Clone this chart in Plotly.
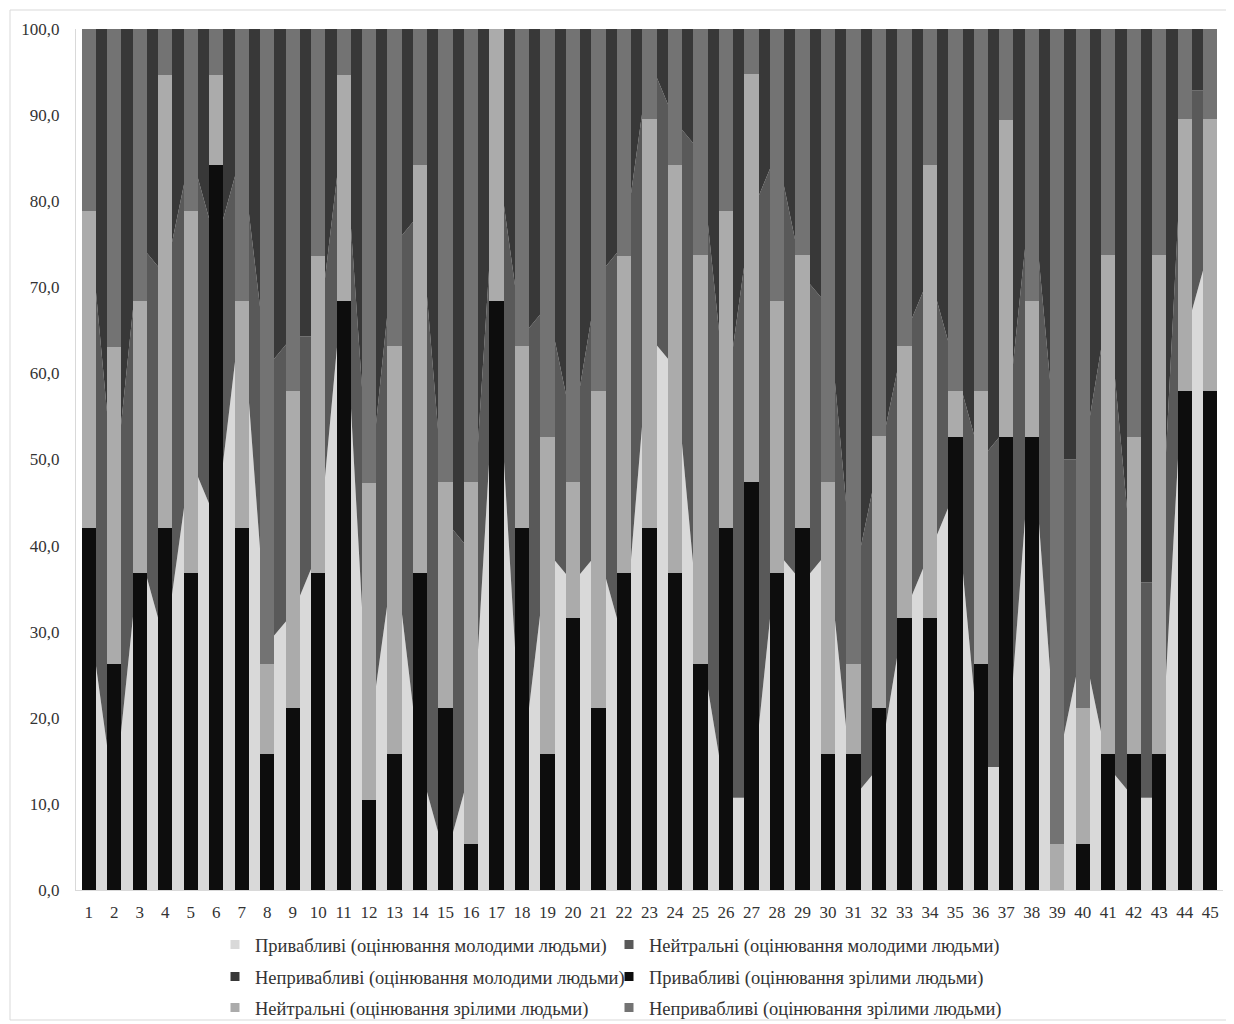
import plotly.graph_objects as go

categories = list(range(1, 46))

# Young people (area series, %)
young_attr = [32.1, 10.7, 39.3, 28.6, 50.0, 42.9, 67.9, 28.6, 32.1, 39.3,
              71.4, 17.9, 39.3, 14.3, 3.6, 14.3, 64.3, 14.3, 39.3, 35.7,
              39.3, 28.6, 64.3, 60.7, 28.6, 10.7, 10.7, 39.3, 35.7, 39.3,
              10.7, 14.3, 32.1, 39.3, 46.4, 14.3, 14.3, 53.6, 14.3, 28.6,
              14.3, 10.7, 10.7, 64.3, 75.0]
young_neut = [46.5, 35.7, 35.7, 42.8, 35.7, 32.1, 17.8, 32.1, 32.2, 25.0,
              17.9, 28.5, 35.7, 64.3, 39.3, 25.0, 21.4, 50.0, 28.6, 17.9,
              32.1, 46.4, 32.1, 28.6, 57.1, 46.4, 67.9, 46.4, 35.7, 28.6,
              25.0, 35.7, 32.2, 32.1, 14.3, 35.7, 39.3, 28.5, 35.7, 21.4,
              53.6, 25.0, 25.0, 28.6, 17.9]
young_unattr = [21.4, 53.6, 25.0, 28.6, 14.3, 25.0, 14.3, 39.3, 35.7, 35.7,
                10.7, 53.6, 25.0, 21.4, 57.1, 60.7, 14.3, 35.7, 32.1, 46.4,
                28.6, 25.0, 3.6, 10.7, 14.3, 42.9, 21.4, 14.3, 28.6, 32.1,
                64.3, 50.0, 35.7, 28.6, 39.3, 50.0, 46.4, 17.9, 50.0, 50.0,
                32.1, 64.3, 64.3, 7.1, 7.1]

# Mature people (bar series, %)
mature_attr = [42.1, 26.3, 36.8, 42.1, 36.8, 84.2, 42.1, 15.8, 21.1, 36.8,
               68.4, 10.5, 15.8, 36.8, 21.1, 5.3, 68.4, 42.1, 15.8, 31.6,
               21.1, 36.8, 42.1, 36.8, 26.3, 42.1, 47.4, 36.8, 42.1, 15.8,
               15.8, 21.1, 31.6, 31.6, 52.6, 26.3, 52.6, 52.6, 0.0, 5.3,
               15.8, 15.8, 15.8, 57.9, 57.9]
mature_neut = [36.8, 36.8, 31.6, 52.6, 42.1, 10.5, 26.3, 10.5, 36.8, 36.8,
               26.3, 36.8, 47.4, 47.4, 26.3, 42.1, 31.6, 21.1, 36.8, 15.8,
               36.8, 36.8, 47.4, 47.4, 47.4, 36.8, 47.4, 31.6, 31.6, 31.6,
               10.5, 31.6, 31.6, 52.6, 5.3, 31.6, 36.8, 15.8, 5.3, 15.8,
               57.9, 36.8, 57.9, 31.6, 31.6]
mature_unattr = [21.1, 36.9, 31.6, 5.3, 21.1, 5.3, 31.6, 73.7, 42.1, 26.4,
                 5.3, 52.7, 36.8, 15.8, 52.6, 52.6, 0.0, 36.8, 47.4, 52.6,
                 42.1, 26.4, 10.5, 15.8, 26.3, 21.1, 5.2, 31.6, 26.3, 52.6,
                 73.7, 47.3, 36.8, 15.8, 42.1, 42.1, 10.6, 31.6, 94.7, 78.9,
                 26.3, 47.4, 26.3, 10.5, 10.5]

names = [
    "Привабливі (оцінювання молодими людьми)",
    "Нейтральні (оцінювання молодими людьми)",
    "Непривабливі (оцінювання молодими людьми)",
    "Привабливі (оцінювання зрілими людьми)",
    "Нейтральні (оцінювання зрілими людьми)",
    "Непривабливі (оцінювання зрілими людьми)",
]
colors = ["#d9d9d9", "#595959", "#383838", "#0d0d0d", "#ababab", "#737373"]

# page offset (body margin) compensation
OFF = 8
W, H = 1234 - OFF, 1024 - OFF
L, T = 76 - OFF, 29 - OFF
R = 11
B = H - (890 - OFF)
pw, ph = W - L - R, H - T - B


def px_x(p):
    return (p - OFF - L) / pw


def px_y(p):
    return (H - B - (p - OFF)) / ph


fig = go.Figure()

# Areas (young) on base axes
for vals, nm, c in zip([young_attr, young_neut, young_unattr], names[:3], colors[:3]):
    fig.add_trace(go.Scatter(
        x=categories, y=vals, name=nm, mode="lines", stackgroup="young",
        line=dict(width=0, color=c), fillcolor=c, showlegend=False,
        hoverinfo="skip"))

# Bars (mature) on overlay axes so they are drawn above the areas
for vals, nm, c in zip([mature_attr, mature_neut, mature_unattr], names[3:], colors[3:]):
    fig.add_trace(go.Bar(
        x=categories, y=vals, name=nm, marker=dict(color=c, line=dict(width=0)),
        width=0.56, xaxis="x2", yaxis="y2", showlegend=False))

# Legend proxies: three rows, two items each (small square keys)
row_of = ["legend", "legend", "legend2", "legend2", "legend3", "legend3"]
for i in range(6):
    fig.add_trace(go.Scatter(
        x=[None], y=[None], name=names[i], mode="markers",
        marker=dict(symbol="square", size=9, color=colors[i]),
        xaxis="x2", yaxis="y2", legend=row_of[i], showlegend=True))

font_family = "Liberation Serif, Times New Roman, serif"


def leg(py):
    return dict(orientation="h", x=px_x(215), xanchor="left",
                y=px_y(py), yanchor="middle", traceorder="normal",
                entrywidth=349, entrywidthmode="pixels",
                font=dict(family=font_family, size=18.5, color="#333333"),
                itemwidth=30, tracegroupgap=0, bgcolor="rgba(0,0,0,0)")


fig.update_layout(
    width=W, height=H,
    margin=dict(l=L, r=R, t=T, b=B, autoexpand=False),
    paper_bgcolor="white", plot_bgcolor="white",
    barmode="stack",
    separators=", ",
    showlegend=True,
    legend=leg(945), legend2=leg(977), legend3=leg(1008),
    xaxis=dict(range=[0.5, 45.5], tickmode="array", tickvals=categories,
               ticktext=[str(c) for c in categories], showgrid=False,
               showline=True, linecolor="#d9d9d9", ticks="", zeroline=False,
               ticklabelstandoff=7,
               tickfont=dict(family=font_family, size=17, color="#333333")),
    yaxis=dict(range=[0, 100], dtick=10, tickformat=".1f", showgrid=False,
               showline=True, linecolor="#d9d9d9", ticks="", zeroline=False,
               ticklabelstandoff=12,
               tickfont=dict(family=font_family, size=17, color="#333333")),
    xaxis2=dict(range=[0.5, 45.5], overlaying="x", visible=False),
    yaxis2=dict(range=[0, 100], overlaying="y", visible=False),
    shapes=[dict(type="rect", xref="paper", yref="paper",
                 x0=px_x(10), x1=px_x(1232),
                 y0=px_y(1020), y1=px_y(10),
                 line=dict(color="#d9d9d9", width=1), layer="below")],
)

fig.write_html("out.html")
